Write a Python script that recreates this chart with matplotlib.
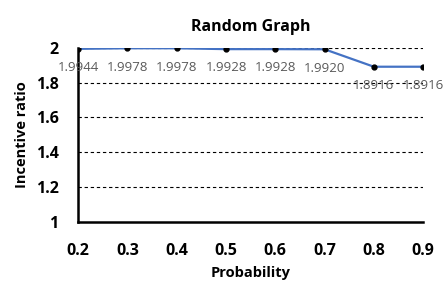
import matplotlib
matplotlib.use("Agg")
import matplotlib.pyplot as plt

# data
probability = [0.2, 0.3, 0.4, 0.5, 0.6, 0.7, 0.8, 0.9]
incentive_ratio = [1.9944, 1.9978, 1.9978, 1.9928, 1.9928, 1.9920, 1.8916, 1.8916]
point_labels = ["1.9944", "1.9978", "1.9978", "1.9928", "1.9928", "1.9920", "1.8916", "1.8916"]
y_ticks = [1, 1.2, 1.4, 1.6, 1.8, 2]
y_tick_labels = ["1", "1.2", "1.4", "1.6", "1.8", "2"]

plt.rcParams['font.family'] = ['Open Sans', 'DejaVu Sans']

fig = plt.figure(figsize=(4.44, 2.85), dpi=100)
ax = fig.add_axes([0.176, 0.222, 0.777, 0.61])

ax.plot(probability, incentive_ratio, color='#4472C4', lw=1.6, zorder=2)
ax.plot(probability, incentive_ratio, 'o', color='black', ms=3.5, zorder=3)

for x, y, s in zip(probability, incentive_ratio, point_labels):
    ax.annotate(s, (x, y), xytext=(0, -13.5), textcoords='offset points',
                ha='center', va='center', fontsize=9.5, color='#595959')

ax.set_xlim(0.2, 0.9)
ax.set_ylim(1, 2)
ax.set_yticks(y_ticks)
ax.set_yticklabels(y_tick_labels, fontweight='bold', fontsize=11.5)
ax.set_xticks(probability)
ax.set_xticklabels([f"{p:.1f}" for p in probability], fontweight='bold', fontsize=11.5)
ax.tick_params(axis='x', length=0, pad=15)
ax.tick_params(axis='y', length=0, pad=14)

for y in y_ticks[1:]:
    ax.axhline(y, color='black', lw=0.8, ls=(0, (3, 2.5)), zorder=1)

for side in ['top', 'right']:
    ax.spines[side].set_visible(False)
ax.spines['left'].set_linewidth(1.8)
ax.spines['bottom'].set_linewidth(1.8)

ax.set_title("Random Graph", fontweight='bold', fontsize=11.5, pad=12)
ax.set_xlabel("Probability", fontweight='bold', fontsize=10.5, labelpad=5)
ax.set_ylabel("Incentive ratio", fontweight='bold', fontsize=10.5, labelpad=5)

fig.savefig("out.png", dpi=100)
